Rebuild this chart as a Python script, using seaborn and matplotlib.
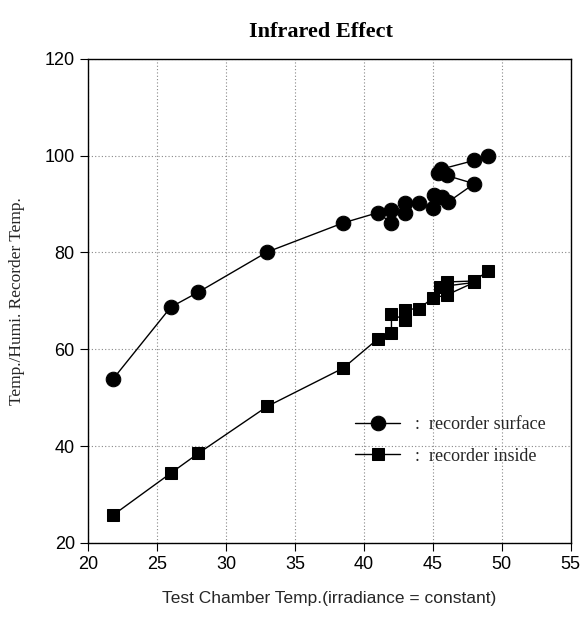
import pandas as pd
import matplotlib
matplotlib.use("Agg")
import matplotlib.pyplot as plt
import seaborn as sns

# recorder surface (order follows the connecting line)
surface_x = [21.8, 26, 28, 33, 38.5, 41, 42, 42, 43, 43, 44, 45, 45.1, 45.7, 46.1, 48, 45.4, 46, 45.6, 48, 49]
surface_y = [53.8, 68.7, 71.8, 80.1, 86.1, 88.2, 86.1, 88.8, 88.2, 90.2, 90.2, 89.2, 91.9, 91.5, 90.4, 94.2, 96.4, 96.0, 97.2, 99.0, 100.0]

# recorder inside
inside_x = [21.8, 26, 28, 33, 38.5, 41, 42, 42, 43, 43, 44, 45, 46, 48, 45.5, 46, 48, 49]
inside_y = [25.7, 34.4, 38.5, 48.2, 56.1, 62.1, 63.4, 67.2, 66.1, 68.2, 68.4, 70.6, 71.2, 73.8, 72.9, 73.9, 74.1, 76.2]

surface_df = pd.DataFrame({"x": surface_x, "y": surface_y})
inside_df = pd.DataFrame({"x": inside_x, "y": inside_y})

sns.set_style("ticks")
plt.rcParams['font.family'] = ['Liberation Sans', 'DejaVu Sans']

fig = plt.figure(figsize=(5.83, 6.19), dpi=100)
ax = fig.add_axes([0.151, 0.123, 0.828, 0.782])

sns.lineplot(data=surface_df, x="x", y="y", sort=False, estimator=None, errorbar=None,
             ax=ax, color="black", linewidth=1.0, marker="o", markersize=10.5,
             markeredgecolor="black", label=":  recorder surface")
sns.lineplot(data=inside_df, x="x", y="y", sort=False, estimator=None, errorbar=None,
             ax=ax, color="black", linewidth=1.0, marker="s", markersize=9,
             markeredgecolor="black", label=":  recorder inside")

ax.set_xlim(20, 55)
ax.set_ylim(20, 120)
ax.set_xticks(range(20, 56, 5))
ax.set_yticks(range(20, 121, 20))
ax.grid(True, linestyle=(0, (1, 2)), color="#888888", linewidth=0.8)
ax.tick_params(direction="out", length=6, labelsize=13, colors="black")
for sp in ax.spines.values():
    sp.set_color("black")
    sp.set_linewidth(1.0)

ax.set_xlabel("Test Chamber Temp.(irradiance = constant)", fontsize=12.5, labelpad=13)
ax.set_ylabel("Temp./Humi. Recorder Temp.", fontsize=12.5,
              family=["Liberation Serif", "DejaVu Serif"], labelpad=14)
fig.suptitle("Infrared Effect", x=0.55, y=0.965, fontsize=16, fontweight="bold",
             color="black", family=["Liberation Serif", "DejaVu Serif"])

leg = ax.legend(loc="upper left", bbox_to_anchor=(0.52, 0.295), frameon=False,
                prop={"family": ["Liberation Serif", "DejaVu Serif"], "size": 13},
                handlelength=2.5, labelspacing=0.8)

fig.savefig("out.png", dpi=100)
